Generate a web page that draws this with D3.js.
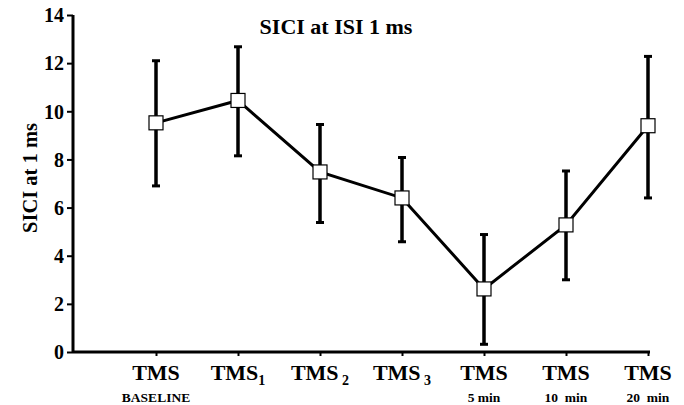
<!DOCTYPE html>
<html><head><meta charset="utf-8">
<script src="https://cdn.jsdelivr.net/npm/d3@7"></script>
<style>body{margin:0;background:#fff}svg{display:block}text{font-family:"Liberation Serif","Times New Roman",serif;font-weight:bold;fill:#000}</style>
</head><body><svg id="c" width="684" height="405"></svg>
<script>
const categories = ["BASELINE","TMS1","TMS2","TMS3","5 min","10 min","20 min"];
const labelMain = ["TMS","TMS","TMS","TMS","TMS","TMS","TMS"];
const labelSub = ["", "1", " 2", " 3", "", "", ""];
const labelBelow = ["BASELINE","","","","5 min","10\u00a0 min","20\u00a0 min"];
const means = [9.52, 10.45, 7.48, 6.40, 2.62, 5.28, 9.40];
const upper = [12.10, 12.68, 9.45, 8.08, 4.88, 7.52, 12.28];
const lower = [6.90, 8.15, 5.38, 4.58, 0.32, 3.00, 6.40];
const yTicks = [0,2,4,6,8,10,12,14];

const svg = d3.select("#c");
const x = d3.scalePoint().domain(categories).range([156, 648]);
const y = d3.scaleLinear().domain([0,14]).range([352, 15]);
const x0 = 73, xEnd = 650;
const serif = '"Liberation Serif","Times New Roman",serif';

// axes
const yAxis = d3.axisLeft(y).tickValues(yTicks).tickSize(6).tickFormat(d3.format("d"));
const gy = svg.append("g").attr("transform",`translate(${x0},0)`).call(yAxis).attr("font-family",serif);
gy.select(".domain").attr("stroke","#000").attr("stroke-width",3).attr("d",`M0,${y(14)}V${y(0)}`);
gy.selectAll(".tick line").attr("stroke-width",2);
gy.selectAll(".tick text").attr("x",-9).attr("dy","0.34em").style("font-size","20px").style("font-family",serif).style("font-weight","bold");

const xAxis = d3.axisBottom(x).tickSize(4).tickFormat("");
const gx = svg.append("g").attr("transform",`translate(0,${y(0)})`).call(xAxis);
gx.select(".domain").attr("stroke","#000").attr("stroke-width",3).attr("d",`M${x0},0H${xEnd}`);
gx.selectAll(".tick line").attr("stroke-width",2);

// x labels
categories.forEach((c,i)=>{
  const t = svg.append("text").attr("x", x(c)).attr("y", 380).attr("text-anchor","middle").style("font-size","22px");
  t.append("tspan").text(labelMain[i]);
  if (labelSub[i]) t.append("tspan").attr("dy",5).style("font-size","14px").text(labelSub[i]);
  if (labelBelow[i]) svg.append("text").attr("x", x(c)).attr("y", 402).attr("text-anchor","middle").style("font-size","13.5px").text(labelBelow[i]);
});

// y title
svg.append("text").attr("transform","translate(37,178) rotate(-90)").attr("text-anchor","middle").style("font-size","20.5px").text("SICI at 1 ms");
// title
svg.append("text").attr("x",336).attr("y",34).attr("text-anchor","middle").style("font-size","22px").text("SICI at ISI 1 ms");

// error bars
const eb = svg.append("g");
categories.forEach((c,i)=>{
  eb.append("line").attr("x1",x(c)).attr("x2",x(c)).attr("y1",y(upper[i])).attr("y2",y(lower[i])).attr("stroke","#000").attr("stroke-width",3.5);
  [upper[i],lower[i]].forEach(v=>{
    eb.append("line").attr("x1",x(c)-4).attr("x2",x(c)+4).attr("y1",y(v)).attr("y2",y(v)).attr("stroke","#000").attr("stroke-width",3);
  });
});

// line
const line = d3.line().x((d,i)=>x(categories[i])).y(d=>y(d));
svg.append("path").datum(means).attr("d",line).attr("fill","none").attr("stroke","#000").attr("stroke-width",3);

// markers
svg.append("g").selectAll("rect").data(means).join("rect")
  .attr("x",(d,i)=>x(categories[i])-7).attr("y",d=>y(d)-7).attr("width",14).attr("height",14)
  .attr("fill","#fff").attr("stroke","#000").attr("stroke-width",1.2);
</script></body></html>
